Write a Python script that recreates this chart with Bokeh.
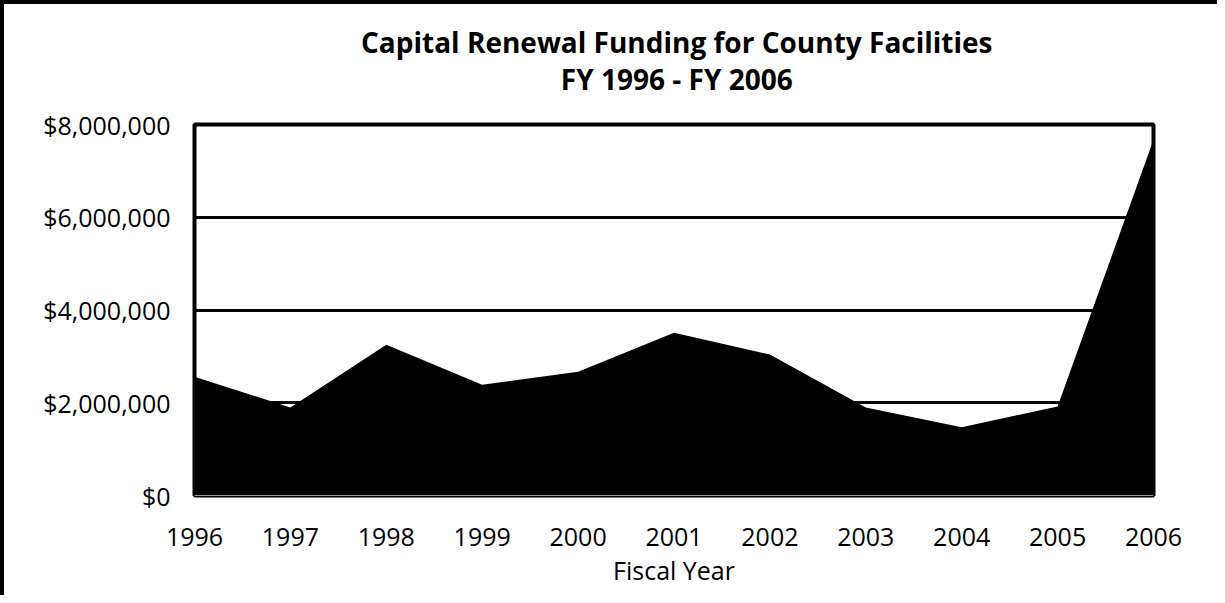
from bokeh.plotting import figure
from bokeh.layouts import column
from bokeh.models import Range1d, NumeralTickFormatter, FixedTicker
from bokeh.core.properties import value
from bokeh.embed import file_html
from bokeh.resources import INLINE

years = [1996, 1997, 1998, 1999, 2000, 2001, 2002, 2003, 2004, 2005, 2006]
funding = [2560000, 1900000, 3250000, 2390000, 2670000, 3510000, 3040000, 1900000, 1470000, 1920000, 7670000]
y_ticks = [0, 2000000, 4000000, 6000000, 8000000]
title_lines = ["Capital Renewal Funding for County Facilities", "FY 1996 - FY 2006"]
x_label = "Fiscal Year"

FONT = "Open Sans"
W = 1213
TH = 100
MH = 491

# ---- title strip ----
t = figure(width=W, height=TH, output_backend="svg", toolbar_location=None,
           x_range=Range1d(0, W), y_range=Range1d(0, TH),
           min_border=0, min_border_left=0, min_border_right=0,
           min_border_top=0, min_border_bottom=0,
           background_fill_color="white", border_fill_color="white")
t.axis.visible = False
t.grid.visible = False
t.outline_line_color = None
t.text(x=[610, 610], y=[TH - 37, TH - 74], text=title_lines,
       text_font=value(FONT), text_font_size="28px", text_font_style="bold",
       text_color="black", text_align="center", text_baseline="alphabetic")

# ---- main chart ----
p = figure(width=W, height=MH, output_backend="svg", toolbar_location=None,
           x_range=Range1d(1996, 2006), y_range=Range1d(0, 8000000),
           min_border_left=190, min_border_right=64, min_border_top=20, min_border_bottom=100,
           background_fill_color="white", border_fill_color="white")

p.varea(x=years, y1=0, y2=funding, fill_color="black", fill_alpha=1.0)

p.outline_line_color = "black"
p.outline_line_width = 4

p.xgrid.visible = False
p.ygrid.grid_line_color = "black"
p.ygrid.grid_line_width = 3
p.ygrid.level = "overlay"
p.ygrid.ticker = FixedTicker(ticks=y_ticks[1:4])

p.yaxis.ticker = FixedTicker(ticks=y_ticks)
p.yaxis.formatter = NumeralTickFormatter(format="$0,0")
p.yaxis.axis_line_color = None
p.yaxis.major_tick_line_color = None
p.yaxis.minor_tick_line_color = None
p.yaxis.major_label_text_font = FONT
p.yaxis.major_label_text_font_size = "25px"
p.yaxis.major_label_text_color = "black"
p.yaxis.major_label_standoff = 18

p.xaxis.ticker = FixedTicker(ticks=years)
p.xaxis.axis_line_color = "#999999"
p.xaxis.axis_line_width = 1
p.xaxis.major_tick_line_color = None
p.xaxis.minor_tick_line_color = None
p.xaxis.major_label_text_font = FONT
p.xaxis.major_label_text_font_size = "25px"
p.xaxis.major_label_text_color = "black"
p.xaxis.major_label_standoff = 26
p.xaxis.axis_label = x_label
p.xaxis.axis_label_text_font = FONT
p.xaxis.axis_label_text_font_size = "25px"
p.xaxis.axis_label_text_font_style = "normal"
p.xaxis.axis_label_text_color = "black"
p.xaxis.axis_label_standoff = 4

layout = column(t, p, spacing=0)
layout.styles = {"border-left": "4px solid black", "border-top": "4px solid black"}

open("out.html", "w").write(file_html(layout, INLINE))
